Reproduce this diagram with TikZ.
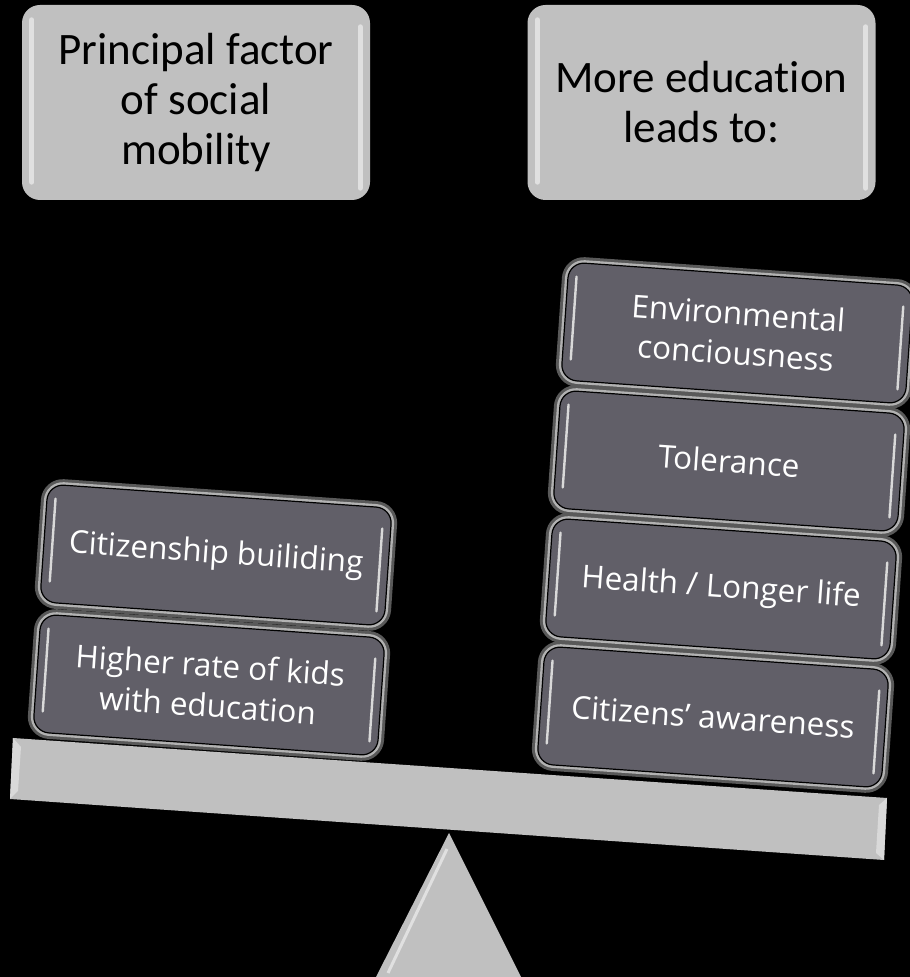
\documentclass[tikz,border=0pt]{standalone}
\usepackage{fontspec}
\setmainfont{Carlito}[Ligatures=NoCommon]
\newfontfamily\panfont{Open Sans}
\definecolor{pale}{RGB}{192,192,192}
\definecolor{slate}{RGB}{97,95,104}
\begin{document}
\begin{tikzpicture}[x=1pt,y=1pt,
	topbox/.style={rounded corners=18pt,fill=pale,minimum width=348pt,minimum height=195pt,inner sep=0pt,align=center,font=\fontsize{45}{50}\selectfont},
	stackbox/.style={rounded corners=16pt,fill=slate,draw=black,line width=1.2pt,text=white,minimum width=345pt,minimum height=118pt,inner sep=0pt,align=center,font=\panfont\fontsize{31.5}{40}\selectfont,
		preaction={draw=white!35!black,line width=12pt},preaction={draw=white!70!black,line width=6pt}},
	gleam/.style={draw=white!85!black,line width=2.4pt,line cap=round},
	topgleam/.style={draw=white!88!black,line width=5pt,line cap=round},
	shine/.pic={
		\draw[gleam] (-164,45) -- (-164,-38);
		\draw[gleam] (164,38) -- (164,-45);}]
	\fill[black] (0,0) rectangle (910,977);
	\useasboundingbox (0,0) rectangle (910,977);
	% top headers
	\node[topbox] (factor) at (196,874.5) {Principal factor\\of social\\mobility};
	\node[topbox] (leads) at (701.5,874.5) {More education\\leads to:};
	\draw[topgleam] ([xshift=10pt,yshift=-15pt]factor.north west) -- ([xshift=10pt,yshift=18pt]factor.south west);
	\draw[topgleam] ([xshift=-10pt,yshift=-22pt]factor.north east) -- ([xshift=-10pt,yshift=12pt]factor.south east);
	\draw[topgleam] ([xshift=10pt,yshift=-15pt]leads.north west) -- ([xshift=10pt,yshift=18pt]leads.south west);
	\draw[topgleam] ([xshift=-10pt,yshift=-22pt]leads.north east) -- ([xshift=-10pt,yshift=12pt]leads.south east);
	% fulcrum and beam
	\fill[pale] (449,144) -- (521,0) -- (376,0) -- cycle;
	\draw[white!88!black,line width=3pt] (447,128) -- (388,4);
	\fill[pale] (13,239) -- (887,179) -- (884,117) -- (10,178) -- cycle;
	\fill[white!85!black] (13,239) -- (21,230) -- (18,186) -- (10,178) -- cycle;
	\fill[white!85!black] (887,179) -- (879,172) -- (876,124) -- (884,117) -- cycle;
	% left pan
	\begin{scope}[shift={(209,292)},rotate=-4,transform shape]
		\node[stackbox] (kids) {Higher rate of kids\\with education};
		\pic {shine};
	\end{scope}
	\begin{scope}[shift={(216,422)},rotate=-4,transform shape]
		\node[stackbox] (citizenship) {Citizenship builiding};
		\pic {shine};
	\end{scope}
	% right pan
	\begin{scope}[shift={(713,260)},rotate=-4,transform shape]
		\node[stackbox] (awareness) {Citizens’ awareness};
		\pic {shine};
	\end{scope}
	\begin{scope}[shift={(721,388)},rotate=-4,transform shape]
		\node[stackbox] (health) {Health / Longer life};
		\pic {shine};
	\end{scope}
	\begin{scope}[shift={(729,516)},rotate=-4,transform shape]
		\node[stackbox] (tolerance) {Tolerance};
		\pic {shine};
	\end{scope}
	\begin{scope}[shift={(737,644)},rotate=-4,transform shape]
		\node[stackbox] (environment) {Environmental\\conciousness};
		\pic {shine};
	\end{scope}
\end{tikzpicture}
\end{document}
